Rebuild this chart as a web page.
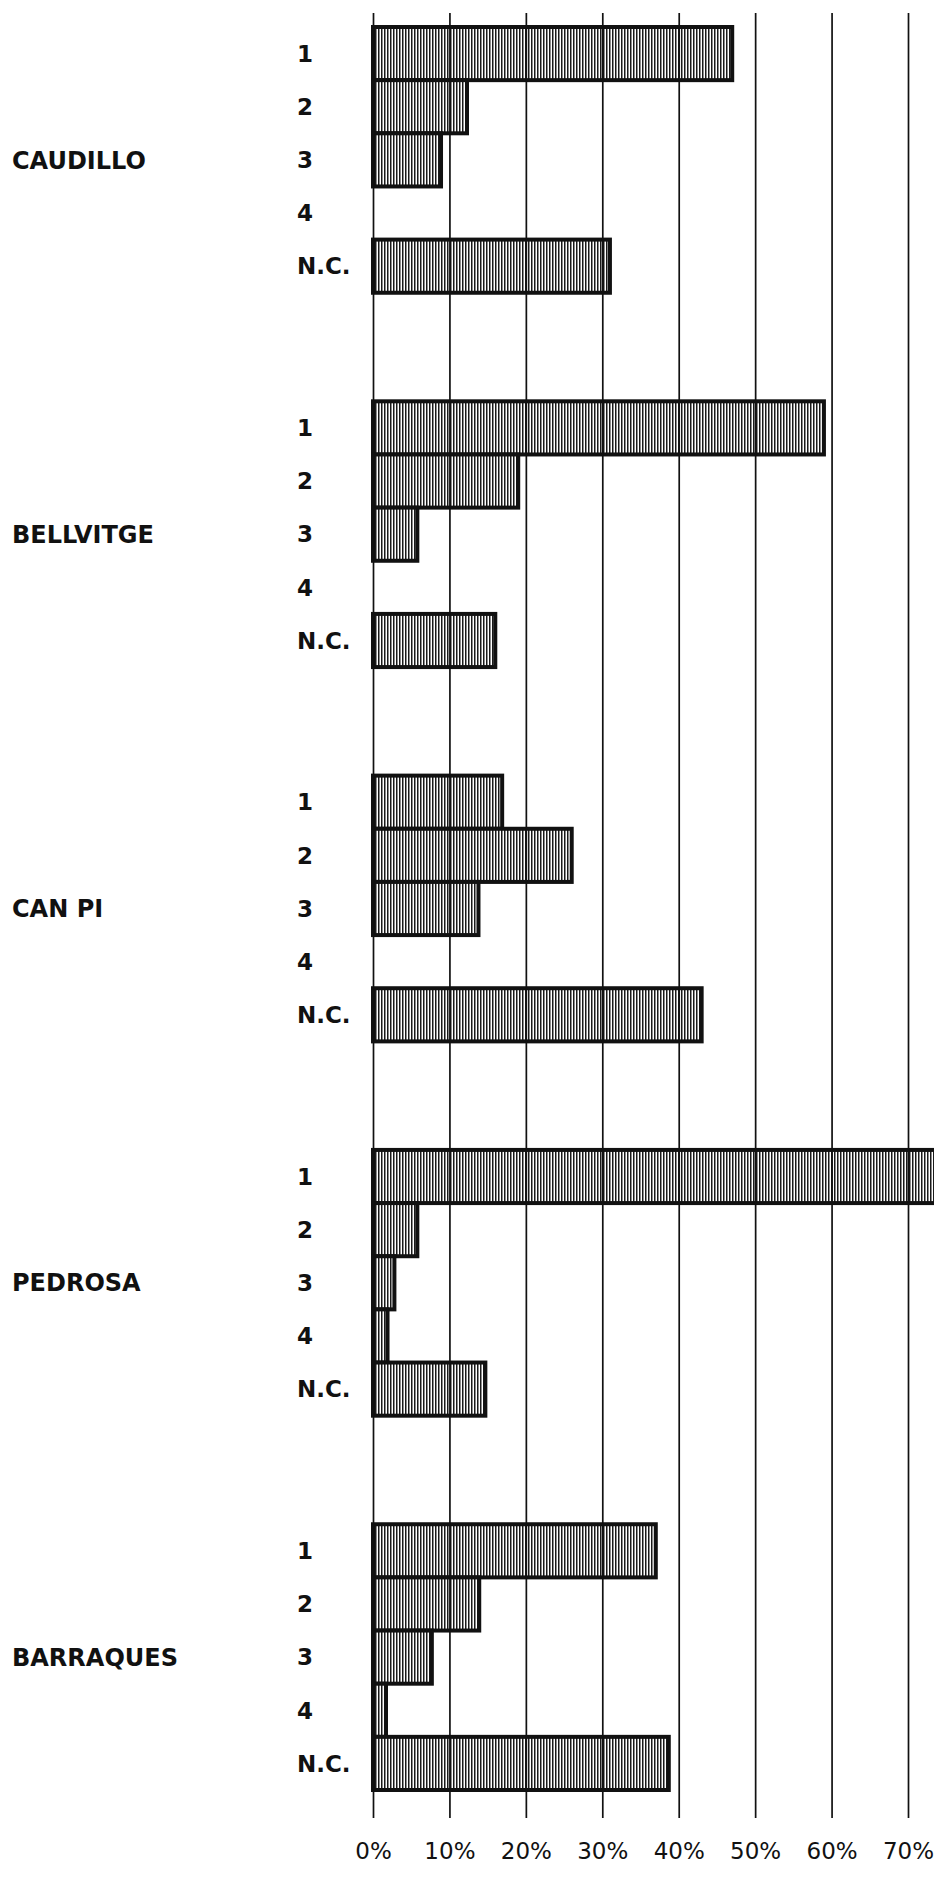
<!DOCTYPE html>
<html>
<head>
<meta charset="utf-8">
<script src="https://cdn.jsdelivr.net/npm/d3@7"></script>
<style>
  body { margin: 0; background: #fff; }
  text { font-family: "DejaVu Sans", sans-serif; fill: #111; }
</style>
</head>
<body>
<div id="wrapper"></div>
<script>
// values, percent of answers
const groups = ["CAUDILLO", "BELLVITGE", "CAN PI", "PEDROSA", "BARRAQUES"];
const rows = ["1", "2", "3", "4", "N.C."];
const caudillo = [47, 12.3, 8.9, 0, 31];
const bellvitge = [59, 19, 5.8, 0, 16];
const canPi = [16.9, 26, 13.8, 0, 43];
const pedrosa = [76, 5.8, 2.8, 1.9, 14.7];
const barraques = [37, 13.9, 7.7, 1.7, 38.7];
const tickValues = [0, 10, 20, 30, 40, 50, 60, 70];

function drawBars() {
  //* Step 1. Access data
  const series = [caudillo, bellvitge, canPi, pedrosa, barraques];
  const dataset = [];
  groups.forEach((g, i) => {
    rows.forEach((r, j) => {
      dataset.push({ group: g, row: r, value: series[i][j] });
    });
  });

  //* Step 2. Dimensions
  const dimensions = {
    width: 934,
    height: 1880,
    plotTop: 27,
    plotBottom: 1790,
    gridTop: 13,
    gridBottom: 1818,
    x0: 373,
    x70: 908,
  };

  //* Step 3. Canvas
  const wrapper = d3
    .select("#wrapper")
    .append("svg")
    .attr("width", dimensions.width)
    .attr("height", dimensions.height);

  const defs = wrapper.append("defs");
  const hatch = defs
    .append("pattern")
    .attr("id", "hatch")
    .attr("patternUnits", "userSpaceOnUse")
    .attr("width", 3)
    .attr("height", 10);
  hatch.append("rect").attr("width", 3).attr("height", 10).attr("fill", "#fff");
  hatch.append("rect").attr("width", 1.5).attr("height", 10).attr("fill", "#1a1a1a");

  //* Step 4. Scales
  const xScale = d3
    .scaleLinear()
    .domain([0, 70])
    .range([dimensions.x0, dimensions.x70]);

  const groupScale = d3
    .scaleBand()
    .domain(groups)
    .range([dimensions.plotTop, dimensions.plotBottom])
    .paddingInner(0.29)
    .paddingOuter(0);

  const rowScale = d3
    .scaleBand()
    .domain(rows)
    .range([0, groupScale.bandwidth()])
    .padding(0);

  const yOf = (d) => groupScale(d.group) + rowScale(d.row);

  //* Step 5. Bars
  wrapper
    .append("g")
    .selectAll("rect")
    .data(dataset.filter((d) => d.value > 0))
    .join("rect")
    .attr("x", xScale(0))
    .attr("y", (d) => yOf(d))
    .attr("width", (d) => xScale(d.value) - xScale(0))
    .attr("height", rowScale.bandwidth())
    .attr("fill", "url(#hatch)")
    .attr("stroke", "#111")
    .attr("stroke-width", 4);

  //* Step 6. Grid and labels
  const xAxisGenerator = d3
    .axisBottom(xScale)
    .tickValues(tickValues)
    .tickSize(-(dimensions.gridBottom - dimensions.gridTop))
    .tickFormat((d) => d + "%");

  const xAxis = wrapper
    .append("g")
    .attr("transform", `translate(0, ${dimensions.gridBottom})`)
    .call(xAxisGenerator);
  xAxis.select(".domain").remove();
  xAxis.selectAll(".tick line").attr("stroke", "#111").attr("stroke-width", 1.7);
  xAxis
    .selectAll(".tick text")
    .attr("y", 25)
    .attr("dy", "0.71em")
    .style("font-size", "23px")
    .style("font-family", "DejaVu Sans, sans-serif");

  wrapper
    .append("g")
    .selectAll("text")
    .data(dataset)
    .join("text")
    .attr("x", 297)
    .attr("y", (d) => yOf(d) + rowScale.bandwidth() / 2)
    .attr("dy", "0.36em")
    .style("font-size", "23px")
    .style("font-weight", "bold")
    .text((d) => d.row);

  wrapper
    .append("g")
    .selectAll("text")
    .data(groups)
    .join("text")
    .attr("x", 12)
    .attr("y", (d) => groupScale(d) + rowScale("3") + rowScale.bandwidth() / 2)
    .attr("dy", "0.36em")
    .style("font-size", "24px")
    .style("font-weight", "bold")
    .text((d) => d);
}

drawBars();
</script>
</body>
</html>
